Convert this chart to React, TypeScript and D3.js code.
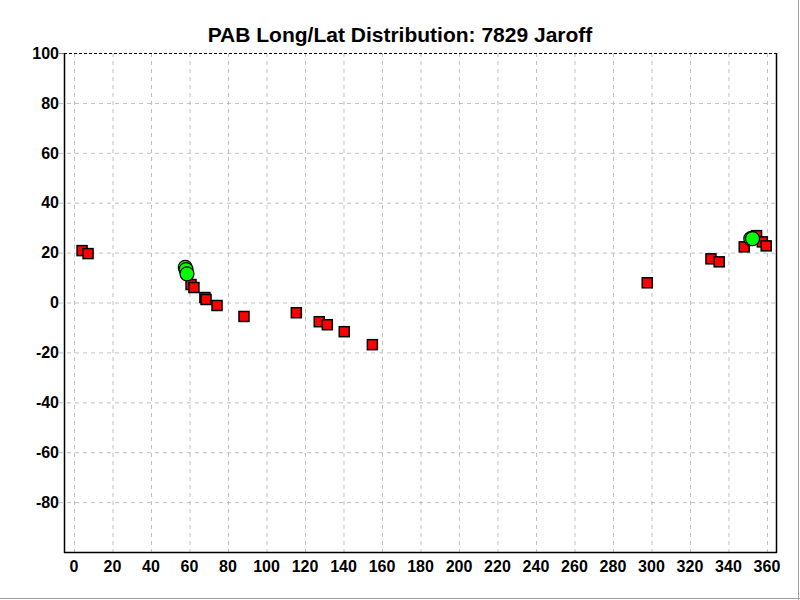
import { useMemo } from "react";
import * as d3 from "d3";

// Observed positions (longitude, latitude)
const redLon = [4.2, 7.3, 60.8, 62.3, 68, 68.6, 74.3, 88.3, 115.5, 127.4, 131.6, 140.4, 155, 297.8, 330.9, 335.2, 348.2, 354.6, 357.6, 359.6];
const redLat = [20.8, 19.6, 7.2, 6, 2, 1.2, -1.2, -5.6, -4.1, -7.7, -8.9, -11.7, -16.9, 7.9, 17.5, 16.3, 22.3, 26.8, 24.3, 22.7];
const greenLon = [57.8, 58.2, 58.7, 351.6, 352.5];
const greenLat = [14.1, 13.2, 11.5, 25.6, 25.6];

const xTicks = d3.range(0, 361, 20);
const yTicks = d3.range(-80, 101, 20);

const W = 800;
const H = 600;
const margin = { top: 53, right: 24, bottom: 48, left: 64 };
const FONT = "'Liberation Sans', Arial, sans-serif";

export default function App() {
  const x = useMemo(
    () => d3.scaleLinear().domain([-5.2, 364.7]).range([margin.left, W - margin.right]),
    []
  );
  const y = useMemo(
    () => d3.scaleLinear().domain([-100, 100]).range([H - margin.bottom, margin.top]),
    []
  );
  const [x0, x1] = x.range();
  const [yb, yt] = y.range();

  return (
    <svg
      width={W}
      height={H}
      style={{ position: "absolute", left: 0, top: 0, background: "#fff" }}
      fontFamily={FONT}
    >
      <rect x={0} y={0} width={W} height={H} fill="#fff" />

      {/* grid */}
      <g stroke="#c0c0c0" strokeDasharray="4,4" strokeWidth={1}>
        {xTicks.map((t) => (
          <line key={"gx" + t} x1={x(t) + 0.5} x2={x(t) + 0.5} y1={yt} y2={yb + 4} />
        ))}
        {yTicks.filter((t) => t < 100).map((t) => (
          <line key={"gy" + t} x1={x0 - 5} x2={x1} y1={y(t) + 0.5} y2={y(t) + 0.5} />
        ))}
      </g>
      <line x1={x0 - 5} x2={x0} y1={yt + 0.5} y2={yt + 0.5} stroke="#808080" />

      {/* frame */}
      <line x1={x0} x2={x1} y1={yt + 0.5} y2={yt + 0.5} stroke="#000" strokeDasharray="3,2" />
      <line x1={x0 + 0.5} x2={x0 + 0.5} y1={yt} y2={yb + 1} stroke="#000" strokeWidth={1.5} />
      <line x1={x0} x2={x1 + 1} y1={yb + 0.5} y2={yb + 0.5} stroke="#000" strokeWidth={1.5} />
      <line x1={x1 + 0.5} x2={x1 + 0.5} y1={yt} y2={yb + 1} stroke="#000" strokeWidth={1.5} />

      {/* y labels */}
      <g fontSize={16} fontWeight="bold" textAnchor="end" fill="#000">
        {yTicks.map((t) => (
          <text key={"ly" + t} x={x0 - 5} y={y(t)} dy="0.36em">
            {t}
          </text>
        ))}
      </g>

      {/* x labels */}
      <g fontSize={16} fontWeight="bold" textAnchor="middle" fill="#000">
        {xTicks.map((t) => (
          <text key={"lx" + t} x={x(t)} y={yb + 20}>
            {t}
          </text>
        ))}
      </g>

      {/* red squares */}
      <g fill="#ff0000" stroke="#000" strokeWidth={1.5}>
        {redLon.map((lon, i) => (
          <rect key={"r" + i} x={x(lon) - 5} y={y(redLat[i]) - 5} width={10} height={10} />
        ))}
      </g>

      {/* green circles */}
      <g fill="#00ff00" stroke="#000" strokeWidth={1.2}>
        {greenLon.map((lon, i) => (
          <circle key={"g" + i} cx={x(lon)} cy={y(greenLat[i])} r={7} />
        ))}
      </g>

      {/* title */}
      <text x={W / 2} y={42} textAnchor="middle" fontSize={21} fontWeight="bold" fill="#000">
        PAB Long/Lat Distribution: 7829 Jaroff
      </text>

      {/* window edge */}
      <line x1={W - 1.5} x2={W - 1.5} y1={0} y2={H} stroke="#a0a0a0" strokeWidth={1} />
      <line x1={0} x2={W} y1={H - 1.5} y2={H - 1.5} stroke="#a0a0a0" strokeWidth={1} />
    </svg>
  );
}
